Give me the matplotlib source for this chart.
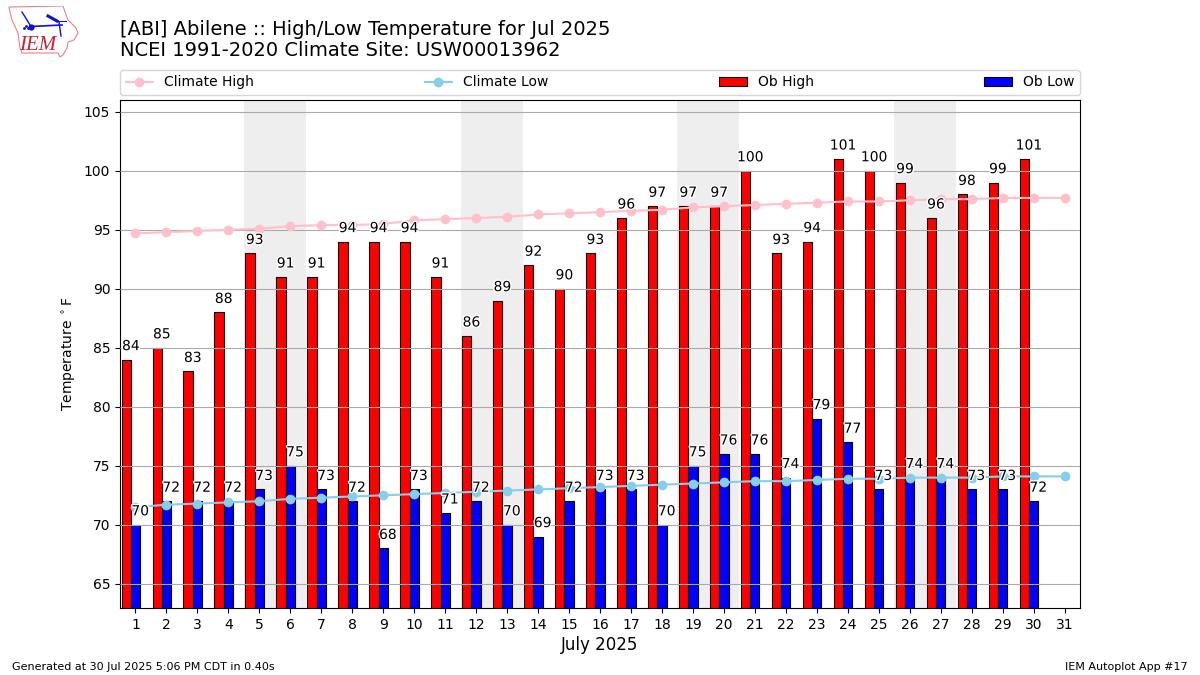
import matplotlib
matplotlib.use("Agg")
import matplotlib.pyplot as plt
import matplotlib.patheffects as PathEffects
from matplotlib.patches import Polygon
import numpy as np

days = list(range(1, 32))
climate_high = [94.7, 94.8, 94.9, 95.0, 95.1, 95.3, 95.4, 95.4, 95.5, 95.8, 95.9, 96.0, 96.1, 96.3, 96.4, 96.5,
                96.6, 96.7, 96.9, 97.0, 97.1, 97.2, 97.3, 97.4, 97.4, 97.5, 97.6, 97.6, 97.7, 97.7, 97.7]
climate_low = [71.5, 71.7, 71.8, 71.9, 72.0, 72.2, 72.3, 72.4, 72.5, 72.6, 72.7, 72.8, 72.9, 73.0, 73.1, 73.2,
               73.3, 73.4, 73.5, 73.6, 73.7, 73.7, 73.8, 73.9, 73.9, 74.0, 74.0, 74.0, 74.1, 74.1, 74.1]
ob_high = [84, 85, 83, 88, 93, 91, 91, 94, 94, 94, 91, 86, 89, 92, 90, 93, 96, 97, 97, 97, 100, 93, 94, 101, 100,
           99, 96, 98, 99, 101]
ob_low = [70, 72, 72, 72, 73, 75, 73, 72, 68, 73, 71, 72, 70, 69, 72, 73, 73, 70, 75, 76, 76, 74, 79, 77, 73, 74,
          74, 73, 73, 72]
weekends = [5, 12, 19, 26]

title = "[ABI] Abilene :: High/Low Temperature for Jul 2025\nNCEI 1991-2020 Climate Site: USW00013962"

fig = plt.figure(figsize=(12, 6.75), dpi=100)
ax = fig.add_axes([120 / 1200, 1 - 608 / 675, 960 / 1200, 508 / 675])

for start in weekends:
    ax.axvspan(start - 0.5, start + 1.5, color="#EEEEEE", lw=0, zorder=1)

ax.set_axisbelow(False)
ax.grid(axis="y", color="#aaaaaa", lw=0.8)

x = np.array(days[:len(ob_high)])
ax.bar(x - 0.3, ob_high, 0.3, color="r", edgecolor="k", lw=0.8, label="Ob High", zorder=2)
ax.bar(x, ob_low, 0.3, color="b", edgecolor="k", lw=0.8, label="Ob Low", zorder=2)
ax.plot(days, climate_high, marker="o", color="pink", label="Climate High", zorder=3)
ax.plot(days, climate_low, marker="o", color="skyblue", label="Climate Low", zorder=3)

for xx, val in zip(x, ob_high):
    ax.text(xx - 0.15, val + 0.55, str(val), ha="center", va="bottom", fontsize=10, zorder=4,
            path_effects=[PathEffects.withStroke(linewidth=2, foreground="white")])
for xx, val in zip(x, ob_low):
    ax.text(xx + 0.15, val + 0.55, str(val), ha="center", va="bottom", fontsize=10, zorder=4,
            path_effects=[PathEffects.withStroke(linewidth=2, foreground="white")])

ax.set_xlim(0.5, 31.5)
ax.set_ylim(62.95, 106)
ax.set_xticks(days)
ax.set_yticks(range(65, 106, 5))
ax.set_xlabel("July 2025", fontsize=12, labelpad=3)
ax.set_ylabel(r"Temperature $^\circ$F")

handles, labels = ax.get_legend_handles_labels()
order = [labels.index(n) for n in ["Climate High", "Climate Low", "Ob High", "Ob Low"]]
ax.legend([handles[i] for i in order], [labels[i] for i in order], ncol=4, mode="expand", loc="lower left",
          bbox_to_anchor=(0, 1.0098, 1, 0.05), borderaxespad=0, fontsize=10)

fig.text(120 / 1200, 1 - 60.5 / 675, title, fontsize=14, ha="left", va="bottom", linespacing=1.15)
fig.text(12 / 1200, 1 - 672 / 675, "Generated at 30 Jul 2025 5:06 PM CDT in 0.40s", fontsize=8, ha="left", va="bottom")
fig.text(1188 / 1200, 1 - 672 / 675, "IEM Autoplot App #17", fontsize=8, ha="right", va="bottom")

# rough copy of the IEM logo, in pixels of the logo box
logo = fig.add_axes([8 / 1200, 1 - 60 / 675, 72 / 1200, 54 / 675])
logo.set_xlim(8, 80)
logo.set_ylim(60, 6)
logo.axis("off")
outline = [(9, 7), (63, 6), (65, 12), (68, 20), (76, 28), (78, 33), (74, 40), (68, 42), (67, 48), (63, 55), (60, 57),
           (58, 53), (22, 53), (20, 48), (18, 33), (12, 20), (10, 12)]
logo.add_patch(Polygon(outline, closed=True, fill=False, edgecolor="#e88090", lw=0.8))
logo.plot([31, 62], [26.5, 25], color="#1010d0", lw=1.2)
logo.plot([31], [26.5], "o", color="#1010d0", ms=4.5, mew=0)
logo.plot([22, 27, 30], [12, 20, 25], color="#1010d0", lw=1)
logo.plot([48, 57], [16, 21], color="#1010d0", lw=2.2)
logo.plot([57, 66], [21, 21], color="#1010d0", lw=0.8)
logo.plot([59, 61], [22, 36], color="#1010d0", lw=1)
logo.plot([24, 26, 28], [28, 26, 28], ".", color="#1010d0", ms=2)
logo.text(37.5, 45, "IEM", color="#d02030", fontsize=15, family="Liberation Serif", style="italic", ha="center", va="center")

fig.savefig("out.png", dpi=100)
